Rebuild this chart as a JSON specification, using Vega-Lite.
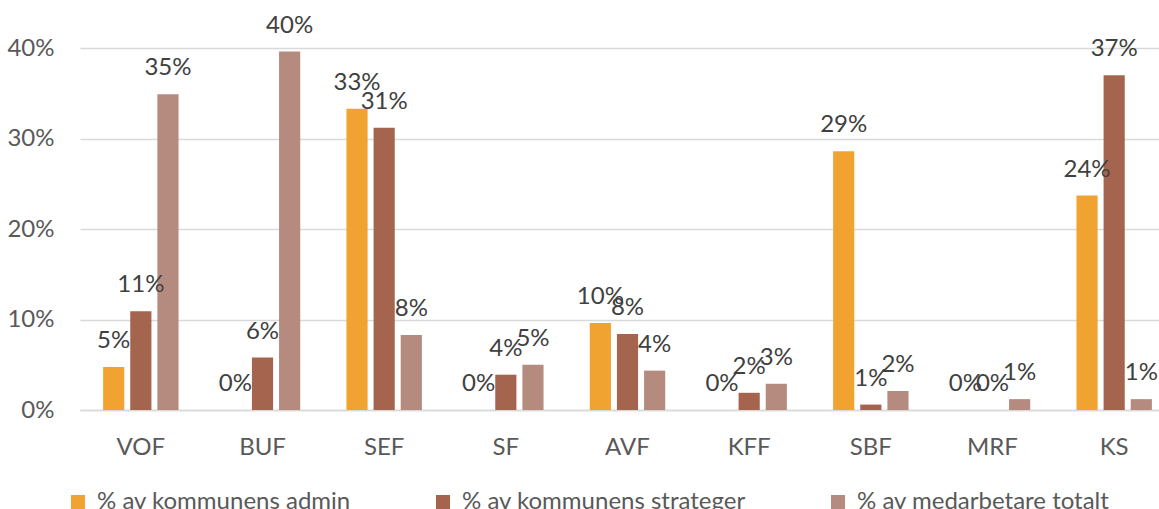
{
  "$schema": "https://vega.github.io/schema/vega-lite/v6.json",
  "width": 1095,
  "height": 362,
  "autosize": "none",
  "padding": {"left": 80, "top": 48, "right": 0, "bottom": 99},
  "background": "white",
  "config": {"view": {"stroke": null}, "font": "Lato"},
  "data": {"values": [
    {"org": "VOF", "s": "% av kommunens admin", "v": 0.0475},
    {"org": "VOF", "s": "% av kommunens strateger", "v": 0.109},
    {"org": "VOF", "s": "% av medarbetare totalt", "v": 0.349},
    {"org": "BUF", "s": "% av kommunens admin", "v": 0},
    {"org": "BUF", "s": "% av kommunens strateger", "v": 0.058},
    {"org": "BUF", "s": "% av medarbetare totalt", "v": 0.396},
    {"org": "SEF", "s": "% av kommunens admin", "v": 0.333},
    {"org": "SEF", "s": "% av kommunens strateger", "v": 0.312},
    {"org": "SEF", "s": "% av medarbetare totalt", "v": 0.083},
    {"org": "SF", "s": "% av kommunens admin", "v": 0},
    {"org": "SF", "s": "% av kommunens strateger", "v": 0.039},
    {"org": "SF", "s": "% av medarbetare totalt", "v": 0.05},
    {"org": "AVF", "s": "% av kommunens admin", "v": 0.096},
    {"org": "AVF", "s": "% av kommunens strateger", "v": 0.084},
    {"org": "AVF", "s": "% av medarbetare totalt", "v": 0.0435},
    {"org": "KFF", "s": "% av kommunens admin", "v": 0},
    {"org": "KFF", "s": "% av kommunens strateger", "v": 0.019},
    {"org": "KFF", "s": "% av medarbetare totalt", "v": 0.029},
    {"org": "SBF", "s": "% av kommunens admin", "v": 0.286},
    {"org": "SBF", "s": "% av kommunens strateger", "v": 0.006},
    {"org": "SBF", "s": "% av medarbetare totalt", "v": 0.021},
    {"org": "MRF", "s": "% av kommunens admin", "v": 0},
    {"org": "MRF", "s": "% av kommunens strateger", "v": 0},
    {"org": "MRF", "s": "% av medarbetare totalt", "v": 0.012},
    {"org": "KS", "s": "% av kommunens admin", "v": 0.237},
    {"org": "KS", "s": "% av kommunens strateger", "v": 0.37},
    {"org": "KS", "s": "% av medarbetare totalt", "v": 0.012}
  ]},
  "encoding": {
    "x": {
      "field": "org", "type": "nominal",
      "sort": ["VOF", "BUF", "SEF", "SF", "AVF", "KFF", "SBF", "MRF", "KS"],
      "scale": {"paddingInner": 0.38, "paddingOuter": 0.19},
      "axis": {"title": null, "labelAngle": 0, "labelFontSize": 24, "labelColor": "#595959", "ticks": false, "domainColor": "#d9d9d9", "domainWidth": 1.3, "labelPadding": 25}
    },
    "xOffset": {
      "field": "s", "type": "nominal",
      "sort": ["% av kommunens admin", "% av kommunens strateger", "% av medarbetare totalt"],
      "scale": {"paddingInner": 0.22, "paddingOuter": 0}
    },
    "y": {
      "field": "v", "type": "quantitative",
      "scale": {"domain": [0, 0.4]},
      "axis": {"title": null, "format": ".0%", "values": [0, 0.1, 0.2, 0.3, 0.4], "labelFontSize": 24, "labelColor": "#595959", "ticks": false, "domain": false, "gridColor": "#d9d9d9", "gridWidth": 1.3, "labelPadding": 26}
    }
  },
  "layer": [
    {
      "mark": {"type": "bar"},
      "encoding": {
        "color": {
          "field": "s", "type": "nominal",
          "scale": {"domain": ["% av kommunens admin", "% av kommunens strateger", "% av medarbetare totalt"], "range": ["#F0A330", "#A4644E", "#B58B80"]},
          "legend": {"title": null, "orient": "none", "legendX": -14, "legendY": 442, "direction": "horizontal", "symbolType": "square", "symbolSize": 196, "symbolStrokeWidth": 0, "symbolOpacity": 1, "labelFontSize": 24, "labelLimit": 500, "labelColor": "#595959", "labelOffset": 7, "columnPadding": 80}
        }
      }
    },
    {
      "mark": {"type": "text", "baseline": "alphabetic", "dy": -19, "fontSize": 24, "color": "#404040"},
      "encoding": {"text": {"field": "v", "type": "quantitative", "format": ".0%"}}
    }
  ]
}
